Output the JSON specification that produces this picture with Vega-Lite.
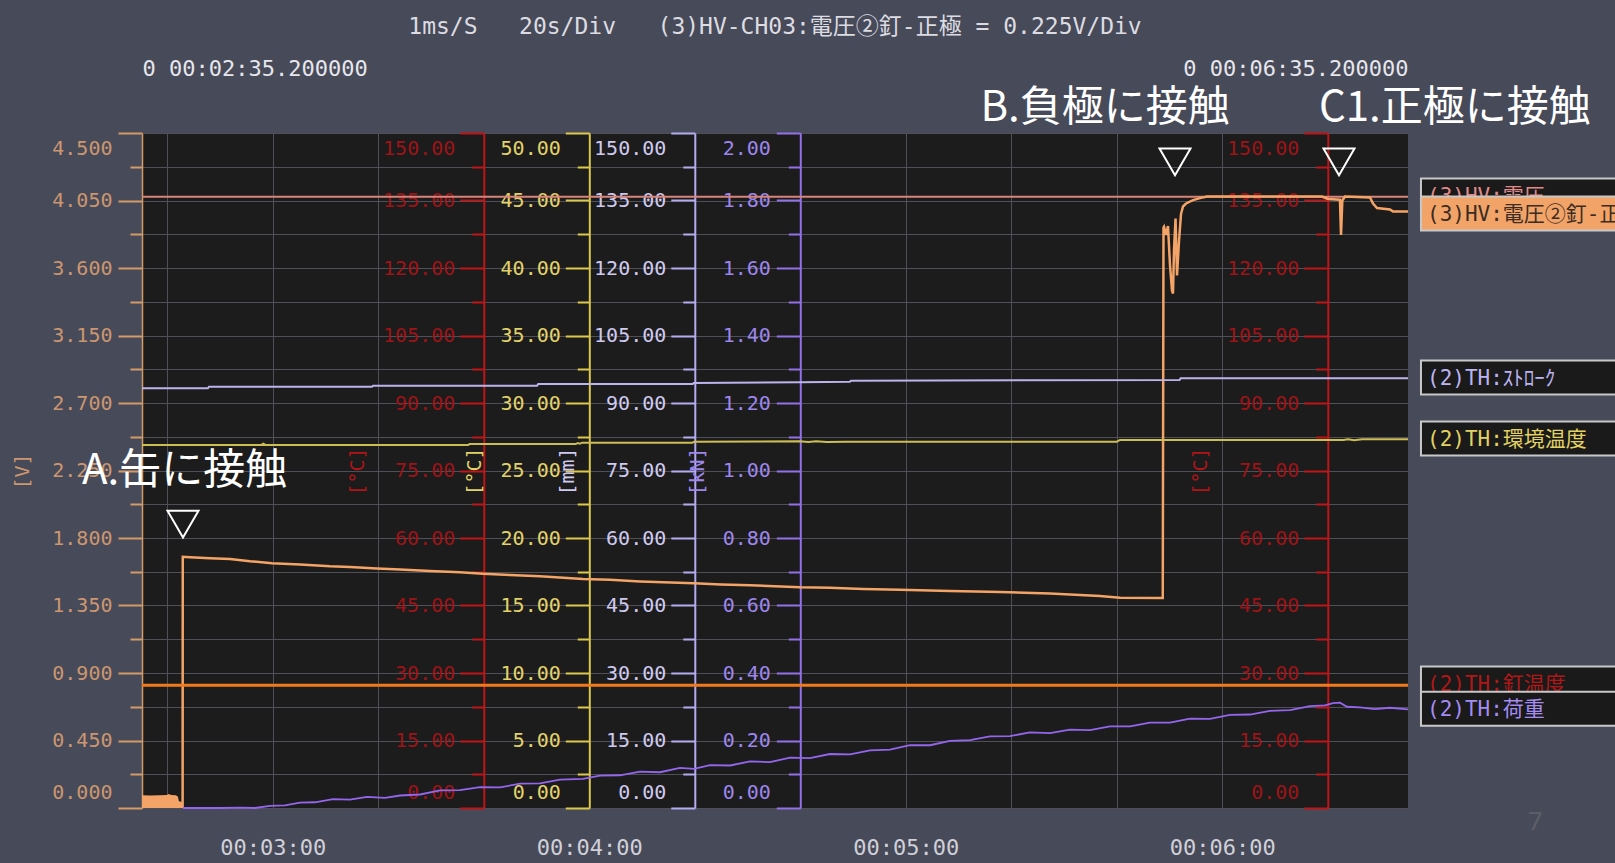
{
  "$schema": "https://vega.github.io/schema/vega-lite/v6.json",
  "width": 1266,
  "height": 675,
  "autosize": {"type": "none"},
  "padding": {"left": 142, "top": 133, "right": 207, "bottom": 55},
  "background": "#474a58",
  "title": {
    "text": "1ms/S\u00a0\u00a0\u00a020s/Div\u00a0\u00a0\u00a0(3)HV-CH03:電圧②釘-正極\u00a0=\u00a00.225V/Div",
    "frame": "group", "anchor": "middle", "orient": "top", "offset": 18,
    "font": "DejaVu Sans Mono, Noto Sans CJK JP", "fontSize": 23, "fontWeight": "normal", "color": "#dcdce2"
  },
  "config": {
    "view": {"fill": "#1c1c1c", "stroke": null},
    "axis": {"labelFont": "DejaVu Sans Mono", "titleFont": "DejaVu Sans Mono", "labelOverlap": false, "titleFontWeight": "normal"}
  },
  "datasets": {
    "hv": [{"t": 155.2, "v": 4.075}, {"t": 395.2, "v": 4.075}],
    "block": [{"t": 155.2, "v": 0.085}, {"t": 156.7, "v": 0.083}, {"t": 158.6, "v": 0.085}, {"t": 159.9, "v": 0.086}, {"t": 160.3, "v": 0.093}, {"t": 160.7, "v": 0.086}, {"t": 161.6, "v": 0.085}, {"t": 162.0, "v": 0.076}, {"t": 162.2, "v": 0.045}, {"t": 162.85, "v": 0.04}],
    "main": [
      {"t": 162.9, "v": 0.0}, {"t": 162.93, "v": 1.675}, {"t": 164.3, "v": 1.672}, {"t": 168.09, "v": 1.665}, {"t": 171.88, "v": 1.66}, {"t": 175.67, "v": 1.645}, {"t": 179.84, "v": 1.632}, {"t": 185.15, "v": 1.624}, {"t": 190.84, "v": 1.612}, {"t": 194.63, "v": 1.607}, {"t": 199.75, "v": 1.597}, {"t": 204.11, "v": 1.59}, {"t": 209.8, "v": 1.58}, {"t": 215.48, "v": 1.571}, {"t": 219.84, "v": 1.562}, {"t": 224.96, "v": 1.553}, {"t": 230.65, "v": 1.545}, {"t": 238.8, "v": 1.527}, {"t": 243.92, "v": 1.521}, {"t": 249.61, "v": 1.51}, {"t": 259.84, "v": 1.498}, {"t": 264.96, "v": 1.49}, {"t": 270.46, "v": 1.485}, {"t": 279.94, "v": 1.472}, {"t": 285.62, "v": 1.469}, {"t": 291.88, "v": 1.46}, {"t": 298.9, "v": 1.455}, {"t": 308.37, "v": 1.447}, {"t": 317.85, "v": 1.44}, {"t": 327.33, "v": 1.43}, {"t": 333.02, "v": 1.42}, {"t": 336.81, "v": 1.413}, {"t": 340.6, "v": 1.402}, {"t": 348.71, "v": 1.4},
      {"t": 348.85, "v": 3.87}, {"t": 348.94, "v": 3.875}, {"t": 349.32, "v": 3.82}, {"t": 349.7, "v": 3.88}, {"t": 350.08, "v": 3.62}, {"t": 350.46, "v": 3.45}, {"t": 350.65, "v": 3.43}, {"t": 350.84, "v": 3.72}, {"t": 351.13, "v": 3.93}, {"t": 351.41, "v": 3.55}, {"t": 351.79, "v": 3.78}, {"t": 352.17, "v": 3.96}, {"t": 352.55, "v": 4.01}, {"t": 353.12, "v": 4.03}, {"t": 354.44, "v": 4.053}, {"t": 355.77, "v": 4.066}, {"t": 357.1, "v": 4.076}, {"t": 378.9, "v": 4.076}, {"t": 380.04, "v": 4.06}, {"t": 382.3, "v": 4.055}, {"t": 382.5, "v": 3.82}, {"t": 382.75, "v": 4.05}, {"t": 383.26, "v": 4.076}, {"t": 388.0, "v": 4.07}, {"t": 388.57, "v": 4.03}, {"t": 389.33, "v": 4.0}, {"t": 391.79, "v": 3.99}, {"t": 392.36, "v": 3.976}, {"t": 395.2, "v": 3.976}
    ],
    "nail": [{"t": 155.2, "v": 27.27}, {"t": 395.2, "v": 27.27}],
    "amb": [
      {"t": 155.2, "v": 26.89}, {"t": 177.8, "v": 26.89}, {"t": 178.2, "v": 26.98}, {"t": 178.6, "v": 26.89}, {"t": 217.0, "v": 26.89}, {"t": 217.3, "v": 26.96}, {"t": 237.4, "v": 26.96}, {"t": 237.8, "v": 27.03}, {"t": 238.2, "v": 26.98}, {"t": 238.6, "v": 27.06}, {"t": 259.5, "v": 27.06}, {"t": 259.9, "v": 27.13}, {"t": 279.9, "v": 27.16}, {"t": 281.5, "v": 27.11}, {"t": 283.0, "v": 27.16}, {"t": 285.0, "v": 27.11}, {"t": 288.6, "v": 27.13}, {"t": 340.0, "v": 27.13}, {"t": 340.6, "v": 27.26}, {"t": 383.0, "v": 27.26}, {"t": 383.8, "v": 27.31}, {"t": 385.0, "v": 27.25}, {"t": 386.5, "v": 27.31}, {"t": 395.2, "v": 27.31}
    ],
    "stroke": [
      {"t": 155.2, "v": 93.27}, {"t": 167.7, "v": 93.27}, {"t": 167.9, "v": 93.62}, {"t": 198.8, "v": 93.62}, {"t": 199.0, "v": 93.84}, {"t": 230.1, "v": 93.84}, {"t": 230.3, "v": 94.22}, {"t": 259.6, "v": 94.22}, {"t": 259.8, "v": 94.44}, {"t": 280.0, "v": 94.6}, {"t": 289.4, "v": 94.73}, {"t": 289.6, "v": 94.96}, {"t": 351.9, "v": 95.11}, {"t": 352.1, "v": 95.49}, {"t": 395.2, "v": 95.49}
    ],
    "load": [
      {"t": 162.97, "v": 0}, {"t": 166.2, "v": 0}, {"t": 169.99, "v": 0}, {"t": 173.78, "v": 0.001}, {"t": 176.62, "v": 0.0}, {"t": 179.47, "v": 0.006}, {"t": 182.31, "v": 0.008}, {"t": 185.15, "v": 0.016}, {"t": 188.0, "v": 0.017}, {"t": 191.41, "v": 0.026}, {"t": 194.63, "v": 0.025}, {"t": 197.85, "v": 0.033}, {"t": 201.27, "v": 0.03}, {"t": 204.11, "v": 0.037}, {"t": 207.9, "v": 0.04}, {"t": 211.69, "v": 0.052}, {"t": 215.48, "v": 0.053}, {"t": 219.27, "v": 0.062}, {"t": 223.07, "v": 0.061}, {"t": 226.86, "v": 0.072}, {"t": 230.65, "v": 0.073}, {"t": 234.44, "v": 0.084}, {"t": 238.8, "v": 0.086}, {"t": 242.02, "v": 0.096}, {"t": 245.81, "v": 0.097}, {"t": 249.61, "v": 0.108}, {"t": 253.4, "v": 0.106}, {"t": 257.19, "v": 0.119}, {"t": 259.84, "v": 0.116}, {"t": 262.88, "v": 0.127}, {"t": 266.67, "v": 0.126}, {"t": 270.46, "v": 0.138}, {"t": 274.25, "v": 0.136}, {"t": 278.04, "v": 0.149}, {"t": 281.83, "v": 0.148}, {"t": 285.62, "v": 0.16}, {"t": 289.42, "v": 0.159}, {"t": 293.21, "v": 0.171}, {"t": 297.0, "v": 0.173}, {"t": 300.79, "v": 0.186}, {"t": 304.58, "v": 0.186}, {"t": 308.37, "v": 0.199}, {"t": 312.16, "v": 0.201}, {"t": 315.96, "v": 0.212}, {"t": 319.75, "v": 0.213}, {"t": 323.54, "v": 0.224}, {"t": 327.33, "v": 0.222}, {"t": 331.12, "v": 0.232}, {"t": 334.91, "v": 0.231}, {"t": 338.7, "v": 0.242}, {"t": 342.5, "v": 0.242}, {"t": 346.29, "v": 0.253}, {"t": 350.08, "v": 0.253}, {"t": 353.87, "v": 0.265}, {"t": 357.66, "v": 0.264}, {"t": 361.45, "v": 0.276}, {"t": 365.24, "v": 0.277}, {"t": 369.03, "v": 0.288}, {"t": 372.83, "v": 0.29}, {"t": 376.62, "v": 0.302}, {"t": 379.46, "v": 0.304}, {"t": 380.98, "v": 0.311}, {"t": 382.31, "v": 0.312}, {"t": 383.63, "v": 0.3}, {"t": 386.1, "v": 0.298}, {"t": 388.94, "v": 0.293}, {"t": 391.79, "v": 0.297}, {"t": 395.2, "v": 0.292}
    ],
    "legend": [
      {"name": "(3)HV:電圧", "v": 4.083},
      {"name": "(3)HV:電圧②釘-正極", "v": 3.963},
      {"name": "(2)TH:ｽﾄﾛｰｸ", "v": 2.87},
      {"name": "(2)TH:環境温度", "v": 2.463},
      {"name": "(2)TH:釘温度", "v": 0.83},
      {"name": "(2)TH:荷重", "v": 0.662}
    ],
    "notes": [
      {"label": "A.缶に接触", "t": 143.83, "v": 2.247},
      {"label": "B.負極に接触", "t": 314.15, "v": 4.667},
      {"label": "C1.正極に接触", "t": 378.33, "v": 4.667}
    ],
    "marks": [{"t": 162.97, "v": 1.893}, {"t": 351.03, "v": 4.307}, {"t": 382.12, "v": 4.307}],
    "page": [{"label": "7", "t": 419.3, "v": -0.093}]
  },
  "resolve": {"scale": {"y": "independent"}, "axis": {"x": "independent", "y": "independent"}},
  "layer": [
    {
      "data": {"name": "hv"},
      "mark": {"type": "line", "color": "#d8847a", "strokeWidth": 2},
      "encoding": {
        "x": {"field": "t", "type": "quantitative", "scale": {"domain": [155.2, 395.2], "nice": false, "zero": false},
          "axis": {"orient": "bottom", "values": [160, 180, 200, 220, 240, 260, 280, 300, 320, 340, 360, 380],
            "labelExpr": "datum.value % 60 == 0 ? '00:0' + (datum.value / 60) + ':00' : ''",
            "grid": true, "gridColor": "#4f5057", "gridWidth": 1, "ticks": false, "domain": false,
            "labelPadding": 29, "labelFontSize": 22, "labelColor": "#d0d0d8", "labelFlush": false, "title": null}},
        "y": {"field": "v", "type": "quantitative", "scale": {"domain": [0, 4.5], "nice": false, "zero": false},
          "axis": {"orient": "left",
            "values": [0, 0.225, 0.45, 0.675, 0.9, 1.125, 1.35, 1.575, 1.8, 2.025, 2.25, 2.475, 2.7, 2.925, 3.15, 3.375, 3.6, 3.825, 4.05, 4.275, 4.5],
            "format": ".3f",
            "labelExpr": "round(datum.value / 0.225) % 2 == 0 ? datum.label : ''",
            "tickSize": {"condition": {"test": "round(datum.value / 0.225) % 2 == 0", "value": 24}, "value": 12},
            "tickWidth": 2, "tickColor": "#d49a68", "domainColor": "#d49a68", "domainWidth": 1.5,
            "labelColor": "#cc9670", "labelFontSize": 20, "labelPadding": 6, "labelFlush": true, "labelFlushOffset": -5.5,
            "grid": true, "gridColor": "#4f5057", "gridWidth": 1,
            "title": "[V]", "titleColor": "#cc9670", "titleFontSize": 20, "titleAngle": -90, "titleX": -120, "titleY": 338, "titleAlign": "center", "titleBaseline": "middle"}}
      }
    },
    {
      "data": {"name": "block"},
      "mark": {"type": "area", "color": "#f4a466"},
      "encoding": {
        "x": {"field": "t", "type": "quantitative", "scale": {"domain": [155.2, 395.2], "nice": false, "zero": false}, "axis": null},
        "y": {"field": "v", "type": "quantitative", "scale": {"domain": [0, 4.5], "nice": false, "zero": false}, "axis": null}
      }
    },
    {
      "data": {"name": "main"},
      "mark": {"type": "line", "color": "#f4a466", "strokeWidth": 2.5},
      "encoding": {
        "x": {"field": "t", "type": "quantitative", "scale": {"domain": [155.2, 395.2], "nice": false, "zero": false}, "axis": null},
        "y": {"field": "v", "type": "quantitative", "scale": {"domain": [0, 4.5], "nice": false, "zero": false}, "axis": null}
      }
    },
    {
      "data": {"name": "nail"},
      "mark": {"type": "line", "color": "#f27a1a", "strokeWidth": 3},
      "encoding": {
        "x": {"field": "t", "type": "quantitative", "scale": {"domain": [155.2, 395.2], "nice": false, "zero": false}, "axis": null},
        "y": {"field": "v", "type": "quantitative", "scale": {"domain": [0, 150], "nice": false, "zero": false},
          "axis": {"orient": "left", "offset": -341.8,
            "values": [0, 7.5, 15, 22.5, 30, 37.5, 45, 52.5, 60, 67.5, 75, 82.5, 90, 97.5, 105, 112.5, 120, 127.5, 135, 142.5, 150],
            "format": ".2f",
            "labelExpr": "round(datum.value / 7.5) % 2 == 0 ? datum.label : ''",
            "tickSize": {"condition": {"test": "round(datum.value / 7.5) % 2 == 0", "value": 24}, "value": 12},
            "tickWidth": 2, "tickColor": "#c01418", "domainColor": "#c01418", "domainWidth": 2,
            "labelColor": "#9c1418", "labelFontSize": 20, "labelPadding": 5, "labelFlush": true, "labelFlushOffset": -5.5,
            "grid": false,
            "title": "[°C]", "titleColor": "#b01418", "titleFontSize": 20, "titleAngle": -90, "titleX": -126, "titleY": 338, "titleAlign": "center", "titleBaseline": "middle"}}
      }
    },
    {
      "data": {"name": "nail"},
      "mark": {"type": "line", "opacity": 0},
      "encoding": {
        "x": {"field": "t", "type": "quantitative", "scale": {"domain": [155.2, 395.2], "nice": false, "zero": false}, "axis": null},
        "y": {"field": "v", "type": "quantitative", "scale": {"domain": [0, 150], "nice": false, "zero": false},
          "axis": {"orient": "left", "offset": -1185.8,
            "values": [0, 7.5, 15, 22.5, 30, 37.5, 45, 52.5, 60, 67.5, 75, 82.5, 90, 97.5, 105, 112.5, 120, 127.5, 135, 142.5, 150],
            "format": ".2f",
            "labelExpr": "round(datum.value / 7.5) % 2 == 0 ? datum.label : ''",
            "tickSize": {"condition": {"test": "round(datum.value / 7.5) % 2 == 0", "value": 24}, "value": 12},
            "tickWidth": 2, "tickColor": "#c01418", "domainColor": "#c01418", "domainWidth": 2,
            "labelColor": "#9c1418", "labelFontSize": 20, "labelPadding": 5, "labelFlush": true, "labelFlushOffset": -5.5,
            "grid": false,
            "title": "[°C]", "titleColor": "#b01418", "titleFontSize": 20, "titleAngle": -90, "titleX": -127, "titleY": 338, "titleAlign": "center", "titleBaseline": "middle"}}
      }
    },
    {
      "data": {"name": "amb"},
      "mark": {"type": "line", "color": "#cdbd55", "strokeWidth": 2},
      "encoding": {
        "x": {"field": "t", "type": "quantitative", "scale": {"domain": [155.2, 395.2], "nice": false, "zero": false}, "axis": null},
        "y": {"field": "v", "type": "quantitative", "scale": {"domain": [0, 50], "nice": false, "zero": false},
          "axis": {"orient": "left", "offset": -447.3,
            "values": [0, 2.5, 5, 7.5, 10, 12.5, 15, 17.5, 20, 22.5, 25, 27.5, 30, 32.5, 35, 37.5, 40, 42.5, 45, 47.5, 50],
            "format": ".2f",
            "labelExpr": "round(datum.value / 2.5) % 2 == 0 ? datum.label : ''",
            "tickSize": {"condition": {"test": "round(datum.value / 2.5) % 2 == 0", "value": 24}, "value": 12},
            "tickWidth": 2, "tickColor": "#dcc84a", "domainColor": "#dcc84a", "domainWidth": 2,
            "labelColor": "#e2d26a", "labelFontSize": 20, "labelPadding": 5, "labelFlush": true, "labelFlushOffset": -5.5,
            "grid": false,
            "title": "[°C]", "titleColor": "#e2d26a", "titleFontSize": 20, "titleAngle": -90, "titleX": -115, "titleY": 338, "titleAlign": "center", "titleBaseline": "middle"}}
      }
    },
    {
      "data": {"name": "stroke"},
      "mark": {"type": "line", "color": "#bcb4ec", "strokeWidth": 2},
      "encoding": {
        "x": {"field": "t", "type": "quantitative", "scale": {"domain": [155.2, 395.2], "nice": false, "zero": false}, "axis": null},
        "y": {"field": "v", "type": "quantitative", "scale": {"domain": [0, 150], "nice": false, "zero": false},
          "axis": {"orient": "left", "offset": -552.8,
            "values": [0, 7.5, 15, 22.5, 30, 37.5, 45, 52.5, 60, 67.5, 75, 82.5, 90, 97.5, 105, 112.5, 120, 127.5, 135, 142.5, 150],
            "format": ".2f",
            "labelExpr": "round(datum.value / 7.5) % 2 == 0 ? datum.label : ''",
            "tickSize": {"condition": {"test": "round(datum.value / 7.5) % 2 == 0", "value": 24}, "value": 12},
            "tickWidth": 2, "tickColor": "#b4acf0", "domainColor": "#b4acf0", "domainWidth": 2,
            "labelColor": "#cfcaf0", "labelFontSize": 20, "labelPadding": 5, "labelFlush": true, "labelFlushOffset": -5.5,
            "grid": false,
            "title": "[mm]", "titleColor": "#cfcaf0", "titleFontSize": 20, "titleAngle": -90, "titleX": -127, "titleY": 338, "titleAlign": "center", "titleBaseline": "middle"}}
      }
    },
    {
      "data": {"name": "load"},
      "mark": {"type": "line", "color": "#9466ee", "strokeWidth": 1.8},
      "encoding": {
        "x": {"field": "t", "type": "quantitative", "scale": {"domain": [155.2, 395.2], "nice": false, "zero": false}, "axis": null},
        "y": {"field": "v", "type": "quantitative", "scale": {"domain": [0, 2], "nice": false, "zero": false},
          "axis": {"orient": "left", "offset": -658.3,
            "values": [0, 0.1, 0.2, 0.3, 0.4, 0.5, 0.6, 0.7, 0.8, 0.9, 1, 1.1, 1.2, 1.3, 1.4, 1.5, 1.6, 1.7, 1.8, 1.9, 2],
            "format": ".2f",
            "labelExpr": "round(datum.value / 0.1) % 2 == 0 ? datum.label : ''",
            "tickSize": {"condition": {"test": "round(datum.value / 0.1) % 2 == 0", "value": 24}, "value": 12},
            "tickWidth": 2, "tickColor": "#9270e8", "domainColor": "#9270e8", "domainWidth": 2,
            "labelColor": "#9d86ec", "labelFontSize": 20, "labelPadding": 6, "labelFlush": true, "labelFlushOffset": -5.5,
            "grid": false,
            "title": "[kN]", "titleColor": "#9d86ec", "titleFontSize": 20, "titleAngle": -90, "titleX": -103, "titleY": 338, "titleAlign": "center", "titleBaseline": "middle"}}
      }
    },
    {
      "data": {"name": "legend"},
      "transform": [{"filter": "datum.name != '(3)HV:電圧②釘-正極' && datum.name != '(2)TH:荷重'"}],
      "mark": {"type": "rect", "height": 34, "stroke": "#c8c8c8", "strokeWidth": 2},
      "encoding": {
        "x": {"datum": 397.66, "type": "quantitative", "scale": {"domain": [155.2, 395.2], "nice": false, "zero": false}, "axis": null},
        "x2": {"datum": 445},
        "y": {"field": "v", "type": "quantitative", "scale": {"domain": [0, 4.5], "nice": false, "zero": false}, "axis": null},
        "fill": {"condition": {"test": "datum.name == '(3)HV:電圧②釘-正極'", "value": "#f2a468"}, "value": "#1a1a1a"}
      }
    },
    {
      "data": {"name": "legend"},
      "transform": [{"filter": "datum.name != '(3)HV:電圧②釘-正極' && datum.name != '(2)TH:荷重'"}],
      "mark": {"type": "text", "align": "left", "baseline": "middle", "dy": 1, "font": "DejaVu Sans Mono, Noto Sans CJK JP", "fontSize": 21},
      "encoding": {
        "x": {"datum": 398.8, "type": "quantitative", "scale": {"domain": [155.2, 395.2], "nice": false, "zero": false}, "axis": null},
        "y": {"field": "v", "type": "quantitative", "scale": {"domain": [0, 4.5], "nice": false, "zero": false}, "axis": null},
        "text": {"field": "name"},
        "color": {"field": "name", "type": "nominal", "legend": null,
          "scale": {"domain": ["(3)HV:電圧", "(3)HV:電圧②釘-正極", "(2)TH:ｽﾄﾛｰｸ", "(2)TH:環境温度", "(2)TH:釘温度", "(2)TH:荷重"],
            "range": ["#e08a8a", "#3c2c24", "#bcb4f0", "#e2d262", "#b01818", "#a48cf2"]}}
      }
    },
    {
      "data": {"name": "legend"},
      "transform": [{"filter": "datum.name == '(3)HV:電圧②釘-正極' || datum.name == '(2)TH:荷重'"}],
      "mark": {"type": "rect", "height": 34, "stroke": "#c8c8c8", "strokeWidth": 2},
      "encoding": {
        "x": {"datum": 397.66, "type": "quantitative", "scale": {"domain": [155.2, 395.2], "nice": false, "zero": false}, "axis": null},
        "x2": {"datum": 445},
        "y": {"field": "v", "type": "quantitative", "scale": {"domain": [0, 4.5], "nice": false, "zero": false}, "axis": null},
        "fill": {"condition": {"test": "datum.name == '(3)HV:電圧②釘-正極'", "value": "#f2a468"}, "value": "#1a1a1a"}
      }
    },
    {
      "data": {"name": "legend"},
      "transform": [{"filter": "datum.name == '(3)HV:電圧②釘-正極' || datum.name == '(2)TH:荷重'"}],
      "mark": {"type": "text", "align": "left", "baseline": "middle", "dy": 1, "font": "DejaVu Sans Mono, Noto Sans CJK JP", "fontSize": 21},
      "encoding": {
        "x": {"datum": 398.8, "type": "quantitative", "scale": {"domain": [155.2, 395.2], "nice": false, "zero": false}, "axis": null},
        "y": {"field": "v", "type": "quantitative", "scale": {"domain": [0, 4.5], "nice": false, "zero": false}, "axis": null},
        "text": {"field": "name"},
        "color": {"field": "name", "type": "nominal", "legend": null,
          "scale": {"domain": ["(3)HV:電圧", "(3)HV:電圧②釘-正極", "(2)TH:ｽﾄﾛｰｸ", "(2)TH:環境温度", "(2)TH:釘温度", "(2)TH:荷重"],
            "range": ["#e08a8a", "#3c2c24", "#bcb4f0", "#e2d262", "#b01818", "#a48cf2"]}}
      }
    },
    {
      "data": {"name": "marks"},
      "mark": {"type": "point", "shape": "triangle-down", "size": 961, "filled": false, "stroke": "#ffffff", "strokeWidth": 2, "opacity": 1},
      "encoding": {
        "x": {"field": "t", "type": "quantitative", "scale": {"domain": [155.2, 395.2], "nice": false, "zero": false}, "axis": null},
        "y": {"field": "v", "type": "quantitative", "scale": {"domain": [0, 4.5], "nice": false, "zero": false}, "axis": null}
      }
    },
    {
      "data": {"name": "notes"},
      "mark": {"type": "text", "align": "left", "baseline": "middle", "font": "Noto Sans CJK JP", "fontSize": 42, "color": "#ffffff"},
      "encoding": {
        "x": {"field": "t", "type": "quantitative", "scale": {"domain": [155.2, 395.2], "nice": false, "zero": false},
          "axis": {"orient": "top", "values": [155.2, 395.2],
            "labelExpr": "datum.value < 200 ? '0 00:02:35.200000' : '0 00:06:35.200000'",
            "labelFlush": true, "ticks": false, "domain": false, "grid": false, "labelLimit": 600,
            "labelPadding": 53, "labelFontSize": 22, "labelColor": "#e6e6ec", "title": null}},
        "y": {"field": "v", "type": "quantitative", "scale": {"domain": [0, 4.5], "nice": false, "zero": false}, "axis": null},
        "text": {"field": "label"}
      }
    },
    {
      "data": {"name": "page"},
      "mark": {"type": "text", "align": "center", "baseline": "middle", "font": "Noto Sans", "fontSize": 26, "color": "#5c5e68"},
      "encoding": {
        "x": {"field": "t", "type": "quantitative", "scale": {"domain": [155.2, 395.2], "nice": false, "zero": false}, "axis": null},
        "y": {"field": "v", "type": "quantitative", "scale": {"domain": [0, 4.5], "nice": false, "zero": false}, "axis": null},
        "text": {"field": "label"}
      }
    }
  ]
}
